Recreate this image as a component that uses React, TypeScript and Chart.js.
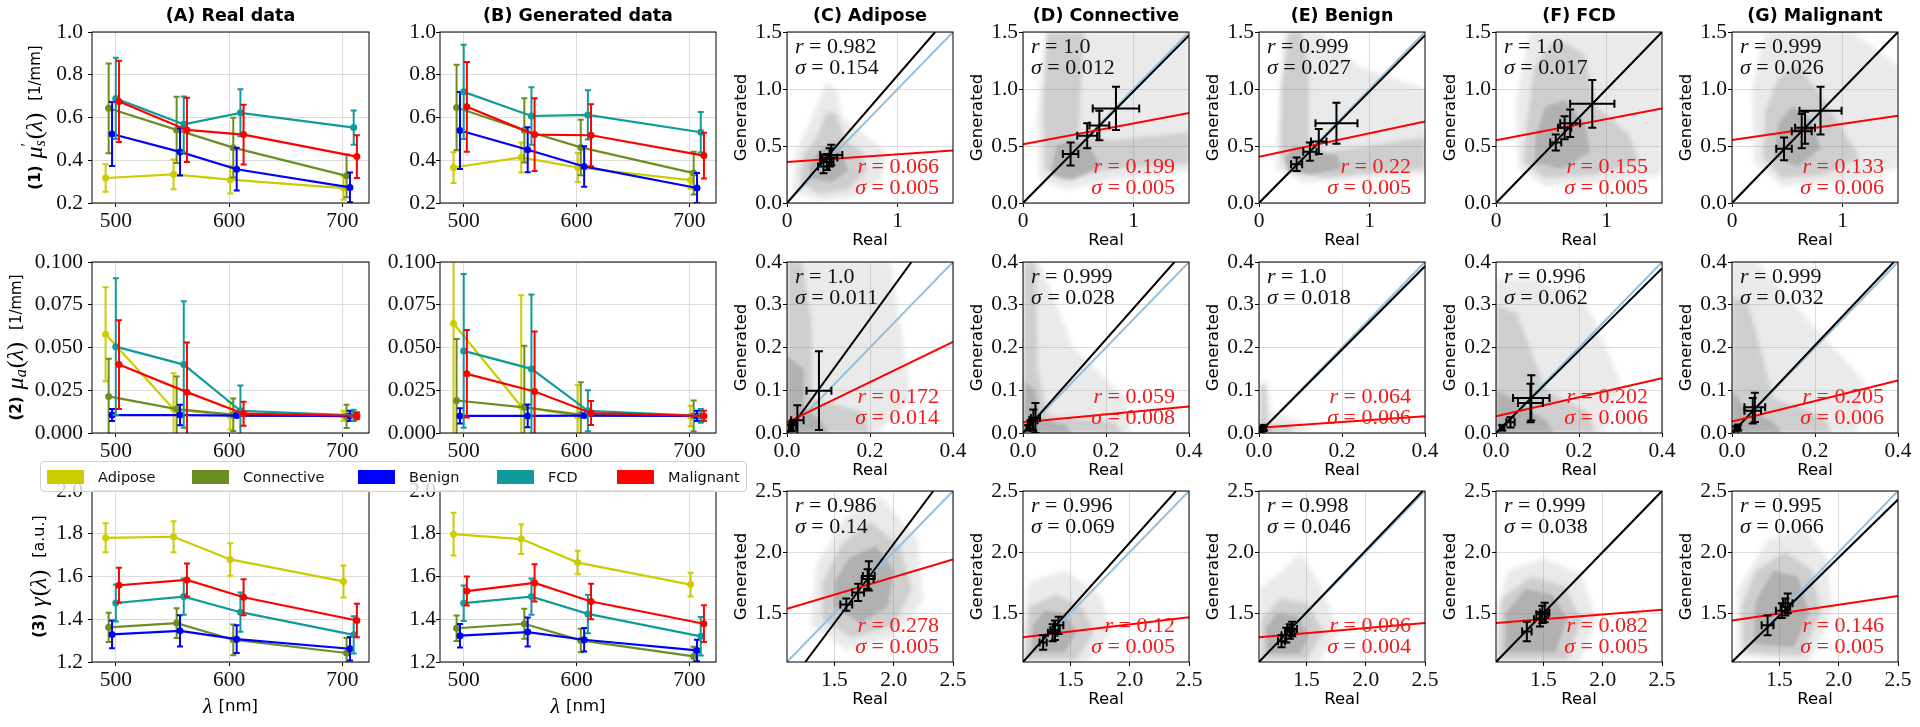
import React, { useEffect, useRef } from 'react';
import { Chart, registerables } from 'chart.js';

// ------------------------------------------------------------------ data
const TISSUES = ['Adipose', 'Connective', 'Benign', 'FCD', 'Malignant'];
const WAVELENGTHS = [490, 550, 600, 700];
const TISSUE_OFFSETS = [1, 3.7, 6.7, 10, 12.8];
const WL_TICKS = [500, 600, 700];
const MUS_TICKS = [0.2, 0.4, 0.6, 0.8, 1.0];
const MUA_TICKS = [0, 0.025, 0.05, 0.075, 0.1];
const GAMMA_TICKS = [1.2, 1.4, 1.6, 1.8, 2.0];

const REAL_MUS = [[0.317, 0.334, 0.309, 0.27], [0.643, 0.542, 0.459, 0.327], [0.523, 0.439, 0.358, 0.273], [0.689, 0.568, 0.622, 0.553], [0.675, 0.542, 0.52, 0.417]];
const REAL_MUS_ERR = [[0.064, 0.07, 0.065, 0.055], [0.21, 0.155, 0.14, 0.1], [0.15, 0.11, 0.1, 0.07], [0.19, 0.13, 0.11, 0.08], [0.19, 0.15, 0.14, 0.1]];
const GEN_MUS = [[0.366, 0.413, 0.366, 0.307], [0.647, 0.54, 0.46, 0.34], [0.539, 0.449, 0.371, 0.27], [0.72, 0.607, 0.612, 0.531], [0.65, 0.52, 0.517, 0.422]];
const GEN_MUS_ERR = [[0.072, 0.07, 0.068, 0.04], [0.2, 0.15, 0.13, 0.1], [0.18, 0.105, 0.095, 0.07], [0.22, 0.135, 0.115, 0.095], [0.21, 0.17, 0.145, 0.107]];

const REAL_MUA = [[0.0577, 0.014, 0.01, 0.01], [0.0214, 0.014, 0.0107, 0.0097], [0.0105, 0.0105, 0.0102, 0.01], [0.0505, 0.04, 0.013, 0.0103], [0.04, 0.0239, 0.0113, 0.0101]];
const REAL_MUA_ERR = [[0.0275, 0.021, 0.008, 0.003], [0.022, 0.019, 0.0095, 0.0068], [0.0035, 0.006, 0.001, 0.003], [0.04, 0.037, 0.0148, 0.0033], [0.026, 0.029, 0.007, 0.002]];
const GEN_MUA = [[0.064, 0.0155, 0.01, 0.01], [0.019, 0.015, 0.0107, 0.01], [0.01, 0.01, 0.0102, 0.01], [0.048, 0.0375, 0.013, 0.01], [0.0346, 0.0243, 0.0117, 0.01]];
const GEN_MUA_ERR = [[0.07, 0.065, 0.018, 0.006], [0.036, 0.036, 0.019, 0.009], [0.0045, 0.0067, 0.001, 0.003], [0.045, 0.0435, 0.012, 0.004], [0.0256, 0.035, 0.007, 0.003]];

const REAL_GAMMA = [[1.781, 1.786, 1.68, 1.577], [1.362, 1.382, 1.304, 1.242], [1.329, 1.346, 1.307, 1.262], [1.476, 1.506, 1.433, 1.327], [1.559, 1.584, 1.503, 1.394]];
const REAL_GAMMA_ERR = [[0.068, 0.072, 0.076, 0.075], [0.068, 0.07, 0.072, 0.07], [0.065, 0.073, 0.065, 0.055], [0.087, 0.085, 0.092, 0.087], [0.082, 0.077, 0.084, 0.078]];
const GEN_GAMMA = [[1.798, 1.775, 1.665, 1.562], [1.358, 1.379, 1.301, 1.226], [1.323, 1.34, 1.304, 1.254], [1.475, 1.506, 1.425, 1.32], [1.532, 1.57, 1.483, 1.379]];
const GEN_GAMMA_ERR = [[0.1, 0.07, 0.055, 0.055], [0.06, 0.07, 0.055, 0.045], [0.055, 0.068, 0.055, 0.05], [0.083, 0.085, 0.09, 0.09], [0.068, 0.087, 0.083, 0.086]];

// scatter panels (rows: mu_s', mu_a, gamma ; columns: tissues)
const SC_RANGE = [[0, 1.5], [0, 0.4], [1.1, 2.5]];
const SC_XTICKS = [[0, 1], [0, 0.2, 0.4], [1.5, 2.0, 2.5]];
const SC_YTICKS = [[0, 0.5, 1.0, 1.5], [0, 0.1, 0.2, 0.3, 0.4], [1.5, 2.0, 2.5]];
const SC_XDEC = [0, 1, 1];

const FIT_R = [['0.982', '1.0', '0.999', '1.0', '0.999'], ['1.0', '0.999', '1.0', '0.996', '0.999'], ['0.986', '0.996', '0.998', '0.999', '0.995']];
const FIT_SIGMA = [['0.154', '0.012', '0.027', '0.017', '0.026'], ['0.011', '0.028', '0.018', '0.062', '0.032'], ['0.14', '0.069', '0.046', '0.038', '0.066']];
const BASE_R = [['0.066', '0.199', '0.22', '0.155', '0.133'], ['0.172', '0.059', '0.064', '0.202', '0.205'], ['0.278', '0.12', '0.096', '0.082', '0.146']];
const BASE_SIGMA = [['0.005', '0.005', '0.005', '0.005', '0.006'], ['0.014', '0.008', '0.006', '0.006', '0.006'], ['0.005', '0.005', '0.004', '0.005', '0.005']];

const BLACK_FIT = [
  [[[0, 0], [1.339, 1.5]], [[0, 0], [1.5, 1.47]], [[0, 0], [1.5, 1.47]], [[0, 0], [1.5, 1.5]], [[0, 0], [1.5, 1.5]]],
  [[[0, 0], [0.3, 0.4]], [[0, 0], [0.365, 0.4]], [[0, 0], [0.4, 0.39]], [[0, 0], [0.4, 0.385]], [[0, 0], [0.39, 0.4]]],
  [[[1.254, 1.1], [2.334, 2.5]], [[1.1, 1.1], [2.39, 2.5]], [[1.1, 1.1], [2.48, 2.5]], [[1.1, 1.1], [2.5, 2.5]], [[1.1, 1.1], [2.5, 2.43]]],
];
// red line: y at x = range min and x = range max
const RED_FIT = [
  [[0.36, 0.46], [0.516, 0.79], [0.405, 0.715], [0.55, 0.83], [0.553, 0.766]],
  [[0.025, 0.213], [0.025, 0.062], [0.012, 0.039], [0.039, 0.128], [0.027, 0.123]],
  [[1.536, 1.94], [1.303, 1.466], [1.303, 1.42], [1.42, 1.528], [1.44, 1.64]],
];
// crosses: [x, y, xerr, yerr]
const CROSSES = [
  [
    [[0.33, 0.32, 0.05, 0.06], [0.36, 0.36, 0.06, 0.07], [0.385, 0.4, 0.07, 0.08], [0.4, 0.42, 0.1, 0.09]],
    [[0.43, 0.43, 0.07, 0.1], [0.58, 0.59, 0.09, 0.11], [0.69, 0.68, 0.09, 0.13], [0.84, 0.83, 0.21, 0.19]],
    [[0.34, 0.34, 0.05, 0.06], [0.46, 0.45, 0.06, 0.08], [0.54, 0.54, 0.07, 0.11], [0.7, 0.7, 0.19, 0.18]],
    [[0.54, 0.53, 0.05, 0.07], [0.62, 0.66, 0.06, 0.1], [0.67, 0.7, 0.09, 0.12], [0.87, 0.87, 0.2, 0.21]],
    [[0.47, 0.475, 0.07, 0.1], [0.63, 0.63, 0.09, 0.15], [0.66, 0.66, 0.09, 0.14], [0.8, 0.81, 0.19, 0.21]],
  ],
  [
    [[0.01, 0.012, 0.005, 0.008], [0.014, 0.018, 0.008, 0.012], [0.025, 0.03, 0.015, 0.035], [0.077, 0.099, 0.03, 0.092]],
    [[0.012, 0.012, 0.004, 0.006], [0.018, 0.02, 0.006, 0.01], [0.025, 0.03, 0.01, 0.025], [0.03, 0.035, 0.011, 0.035]],
    [[0.008, 0.008, 0.002, 0.003], [0.01, 0.01, 0.003, 0.004], [0.011, 0.011, 0.003, 0.005], [0.012, 0.012, 0.004, 0.006]],
    [[0.015, 0.012, 0.005, 0.006], [0.035, 0.025, 0.01, 0.012], [0.083, 0.07, 0.03, 0.045], [0.085, 0.082, 0.044, 0.053]],
    [[0.01, 0.01, 0.004, 0.005], [0.015, 0.013, 0.005, 0.007], [0.05, 0.052, 0.02, 0.03], [0.055, 0.06, 0.025, 0.034]],
  ],
  [
    [[1.6, 1.57, 0.05, 0.05], [1.7, 1.67, 0.05, 0.07], [1.78, 1.78, 0.05, 0.08], [1.79, 1.805, 0.05, 0.12]],
    [[1.27, 1.26, 0.03, 0.06], [1.35, 1.34, 0.04, 0.07], [1.37, 1.36, 0.04, 0.08], [1.4, 1.4, 0.04, 0.07]],
    [[1.29, 1.27, 0.03, 0.05], [1.33, 1.32, 0.04, 0.06], [1.36, 1.35, 0.04, 0.06], [1.38, 1.37, 0.04, 0.06]],
    [[1.36, 1.35, 0.04, 0.08], [1.47, 1.45, 0.05, 0.06], [1.49, 1.49, 0.05, 0.07], [1.51, 1.505, 0.04, 0.08]],
    [[1.4, 1.4, 0.05, 0.08], [1.52, 1.52, 0.05, 0.06], [1.55, 1.55, 0.04, 0.07], [1.57, 1.58, 0.04, 0.08]],
  ],
];
// outlines of the grey sample clouds: [faint, medium, dense]
const CLOUDS = [
  [
    [[[0.05, 0.1], [0.3, 0.02], [0.6, 0.05], [0.85, 0.2], [0.9, 0.45], [0.7, 0.6], [0.5, 0.75], [0.45, 1.0], [0.35, 1.05], [0.25, 0.8], [0.08, 0.45]],
     [[0.12, 0.18], [0.3, 0.08], [0.55, 0.12], [0.72, 0.28], [0.68, 0.45], [0.52, 0.55], [0.45, 0.78], [0.36, 0.8], [0.28, 0.6], [0.14, 0.4]],
     [[0.22, 0.22], [0.4, 0.18], [0.55, 0.28], [0.5, 0.45], [0.4, 0.52], [0.28, 0.45], [0.2, 0.32]]],
    [[[0.15, 0.2], [0.4, 0.12], [0.9, 0.22], [1.5, 0.28], [1.5, 1.5], [0.2, 1.5], [0.12, 0.7]],
     [[0.2, 0.3], [0.35, 0.2], [0.8, 0.3], [1.5, 0.35], [1.5, 0.62], [0.8, 0.55], [0.5, 0.6], [0.55, 1.5], [0.22, 1.5], [0.18, 0.8]],
     [[0.25, 0.25], [0.45, 0.2], [0.7, 0.32], [0.6, 0.5], [0.42, 0.55], [0.3, 0.5]]],
    [[[0.15, 0.3], [0.4, 0.18], [1.0, 0.22], [1.5, 0.25], [1.5, 1.0], [0.9, 1.2], [0.55, 1.5], [0.22, 1.5]],
     [[0.2, 0.4], [0.28, 0.28], [0.6, 0.22], [1.0, 0.26], [1.5, 0.3], [1.5, 0.58], [1.0, 0.5], [0.6, 0.45], [0.45, 0.55], [0.45, 1.2], [0.38, 1.5], [0.27, 1.5], [0.2, 1.0]],
     [[0.25, 0.28], [0.45, 0.25], [0.75, 0.3], [0.7, 0.42], [0.45, 0.45], [0.32, 0.5], [0.24, 0.4]]],
    [[[0.2, 0.3], [0.45, 0.15], [1.0, 0.18], [1.5, 0.25], [1.5, 1.5], [0.3, 1.5], [0.18, 0.9]],
     [[0.25, 0.35], [0.45, 0.22], [0.9, 0.25], [1.3, 0.35], [1.2, 0.6], [0.9, 0.85], [0.8, 1.3], [0.55, 1.45], [0.35, 1.2], [0.28, 0.7]],
     [[0.35, 0.35], [0.6, 0.3], [0.85, 0.45], [0.8, 0.7], [0.62, 0.9], [0.45, 0.85], [0.36, 0.6]]],
    [[[0.2, 0.35], [0.45, 0.15], [1.0, 0.18], [1.5, 0.3], [1.5, 1.2], [1.1, 1.5], [0.3, 1.5], [0.18, 1.0]],
     [[0.28, 0.4], [0.45, 0.22], [0.85, 0.25], [1.15, 0.4], [1.0, 0.65], [0.8, 0.95], [0.6, 1.2], [0.42, 1.1], [0.3, 0.8]],
     [[0.38, 0.4], [0.6, 0.32], [0.8, 0.48], [0.72, 0.72], [0.55, 0.85], [0.42, 0.7]]],
  ],
  [
    [[[0, 0], [0.22, 0], [0.3, 0.08], [0.25, 0.4], [0, 0.4]],
     [[0, 0], [0.2, 0], [0.18, 0.05], [0.06, 0.08], [0.06, 0.25], [0.035, 0.4], [0, 0.4]],
     [[0, 0], [0.1, 0], [0.08, 0.03], [0.04, 0.06], [0.04, 0.15], [0, 0.18]]],
    [[[0, 0], [0.26, 0], [0.25, 0.08], [0.12, 0.2], [0.04, 0.4], [0, 0.4]],
     [[0, 0], [0.24, 0], [0.22, 0.025], [0.06, 0.04], [0.035, 0.15], [0.03, 0.4], [0.005, 0.4]],
     [[0, 0], [0.12, 0], [0.1, 0.02], [0.04, 0.03], [0.03, 0.1], [0.005, 0.12]]],
    [[[0, 0], [0.12, 0], [0.1, 0.03], [0.03, 0.05], [0.02, 0.12], [0, 0.12]],
     [[0.002, 0], [0.09, 0], [0.07, 0.015], [0.02, 0.02], [0.015, 0.11], [0.005, 0.11]],
     [[0.003, 0.003], [0.03, 0.003], [0.03, 0.015], [0.003, 0.02]]],
    [[[0, 0], [0.26, 0], [0.3, 0.12], [0.22, 0.3], [0.1, 0.36], [0, 0.36]],
     [[0, 0], [0.24, 0], [0.22, 0.05], [0.12, 0.1], [0.05, 0.28], [0, 0.3]],
     [[0, 0], [0.14, 0], [0.12, 0.03], [0.04, 0.08], [0, 0.1]]],
    [[[0, 0], [0.3, 0], [0.32, 0.12], [0.15, 0.3], [0.06, 0.4], [0, 0.4]],
     [[0, 0], [0.24, 0], [0.22, 0.04], [0.1, 0.08], [0.04, 0.3], [0, 0.32]],
     [[0, 0], [0.12, 0], [0.1, 0.025], [0.03, 0.06], [0, 0.1]]],
  ],
  [
    [[[1.3, 1.4], [1.6, 1.2], [2.0, 1.3], [2.25, 1.6], [2.2, 2.1], [1.9, 2.45], [1.6, 2.3], [1.35, 1.9]],
     [[1.4, 1.45], [1.65, 1.3], [2.0, 1.4], [2.15, 1.7], [2.05, 2.05], [1.8, 2.25], [1.55, 2.05], [1.4, 1.75]],
     [[1.5, 1.55], [1.72, 1.42], [1.95, 1.55], [2.0, 1.85], [1.85, 2.05], [1.62, 1.95], [1.5, 1.75]]],
    [[[1.1, 1.1], [1.65, 1.1], [1.85, 1.35], [1.75, 1.65], [1.45, 1.85], [1.15, 1.75], [1.1, 1.4]],
     [[1.12, 1.12], [1.55, 1.12], [1.7, 1.35], [1.6, 1.55], [1.38, 1.65], [1.15, 1.55]],
     [[1.18, 1.18], [1.45, 1.18], [1.55, 1.35], [1.45, 1.5], [1.28, 1.52], [1.18, 1.4]]],
    [[[1.1, 1.1], [1.6, 1.1], [1.78, 1.35], [1.62, 1.72], [1.45, 2.0], [1.3, 1.85], [1.1, 1.7]],
     [[1.12, 1.12], [1.5, 1.12], [1.65, 1.35], [1.5, 1.58], [1.28, 1.62], [1.12, 1.45]],
     [[1.17, 1.17], [1.45, 1.17], [1.52, 1.32], [1.42, 1.48], [1.25, 1.5], [1.16, 1.38]]],
    [[[1.1, 1.1], [1.8, 1.1], [1.95, 1.45], [1.82, 1.82], [1.5, 1.95], [1.2, 1.85], [1.1, 1.5]],
     [[1.12, 1.12], [1.7, 1.12], [1.82, 1.45], [1.68, 1.72], [1.4, 1.8], [1.15, 1.62]],
     [[1.18, 1.18], [1.6, 1.18], [1.7, 1.45], [1.58, 1.65], [1.35, 1.7], [1.18, 1.5]]],
    [[[1.15, 1.15], [1.75, 1.1], [1.95, 1.5], [1.9, 1.95], [1.7, 2.2], [1.4, 2.1], [1.15, 1.7]],
     [[1.2, 1.18], [1.68, 1.15], [1.85, 1.5], [1.78, 1.85], [1.55, 2.0], [1.3, 1.85], [1.18, 1.55]],
     [[1.28, 1.25], [1.62, 1.22], [1.75, 1.5], [1.65, 1.8], [1.45, 1.85], [1.3, 1.6]]],
  ],
];

// ------------------------------------------------------------------ styles / layout
const TISSUE_COLORS = ['#cccc00', '#6b8e23', '#0000ff', '#0f9b9b', '#ff0000'];
const ID_COLOR = '#97c0dc';
const GRID_COLOR = '#dcdcdc';
const CLOUD_ALPHA = [0.17, 0.27, 0.36];
const CLOUD_BLUR = [2.5, 2, 1.5];
const SANS = '"DejaVu Sans", sans-serif';
const SERIF = '"Liberation Serif", serif';
const TICK_SIZE = 21.5;
const MATH_SIZE = 22;
const fS = (px: number, bold = false) => `${bold ? 'bold ' : ''}${px}px ${SANS}`;
const fM = (px: number, italic = false) => `${italic ? 'italic ' : ''}${px}px ${SERIF}`;

const COL_LEFT = [92, 440, 787, 1023, 1259, 1496, 1732];
const COL_WIDTH = [277, 276, 166, 166, 166, 166, 166];
const ROW_TOP = [32, 262, 491];
const ROW_HEIGHT = 171;
const MT = 35;
const MB = 60;

const COL_TITLES = ['(A) Real data', '(B) Generated data', '(C) Adipose', '(D) Connective', '(E) Benign', '(F) FCD', '(G) Malignant'];

type Seg = { t: string; f: string; c?: string; dy?: number; ov?: boolean; gap?: number };

const ROW_LABELS: Seg[][] = [
  [{ t: '(1)', f: fS(15, true) }, { t: 'μ', f: fM(24, true), gap: 7 }, { t: '′', f: fM(16), dy: -8, ov: true }, { t: 's', f: fM(16, true), dy: 5 }, { t: '(', f: fM(24), gap: 1 }, { t: 'λ', f: fM(24, true) }, { t: ')', f: fM(24) }, { t: '[1/mm]', f: fS(15), gap: 12 }],
  [{ t: '(2)', f: fS(15, true) }, { t: 'μ', f: fM(24, true), gap: 7 }, { t: 'a', f: fM(16, true), dy: 5 }, { t: '(', f: fM(24), gap: 1 }, { t: 'λ', f: fM(24, true) }, { t: ')', f: fM(24) }, { t: '[1/mm]', f: fS(15), gap: 12 }],
  [{ t: '(3)', f: fS(15, true) }, { t: 'γ', f: fM(24, true), gap: 7 }, { t: '(', f: fM(24), gap: 1 }, { t: 'λ', f: fM(24, true) }, { t: ')', f: fM(24) }, { t: '[a.u.]', f: fS(16), gap: 12 }],
];
const ROW_LABEL_DX = [-56, -75, -52];

// ------------------------------------------------------------------ plugins
const blurPlugin = {
  id: 'cloudBlur',
  beforeDatasetDraw(chart: any, args: any) {
    const ds = chart.data.datasets[args.index];
    if (ds && ds.blur) chart.ctx.filter = `blur(${ds.blur}px)`;
  },
  afterDatasetDraw(chart: any, args: any) {
    const ds = chart.data.datasets[args.index];
    if (ds && ds.blur) chart.ctx.filter = 'none';
  },
};

const errorBarPlugin = {
  id: 'errorBars',
  beforeDatasetDraw(chart: any, args: any) {
    const ds = chart.data.datasets[args.index];
    if (!ds || (!ds.errY && !ds.errX)) return;
    const { ctx, chartArea: a } = chart;
    const xs = chart.scales.x;
    const ys = chart.scales.y;
    ctx.save();
    ctx.beginPath();
    ctx.rect(a.left, a.top, a.right - a.left, a.bottom - a.top);
    ctx.clip();
    ctx.strokeStyle = ds.errColor || ds.borderColor;
    ctx.lineWidth = ds.errWidth || 1.5;
    const cap = ds.capSize ?? 3;
    ds.data.forEach((p: any, i: number) => {
      const px = xs.getPixelForValue(p.x);
      const py = ys.getPixelForValue(p.y);
      ctx.beginPath();
      if (ds.errY) {
        const e = ds.errY[i];
        const y1 = ys.getPixelForValue(p.y - e);
        const y2 = ys.getPixelForValue(p.y + e);
        ctx.moveTo(px, y1); ctx.lineTo(px, y2);
        ctx.moveTo(px - cap, y1); ctx.lineTo(px + cap, y1);
        ctx.moveTo(px - cap, y2); ctx.lineTo(px + cap, y2);
      }
      if (ds.errX) {
        const e = ds.errX[i];
        const x1 = xs.getPixelForValue(p.x - e);
        const x2 = xs.getPixelForValue(p.x + e);
        ctx.moveTo(x1, py); ctx.lineTo(x2, py);
        ctx.moveTo(x1, py - cap); ctx.lineTo(x1, py + cap);
        ctx.moveTo(x2, py - cap); ctx.lineTo(x2, py + cap);
      }
      ctx.stroke();
    });
    ctx.restore();
  },
};

Chart.register(blurPlugin as any, errorBarPlugin as any);
Chart.register(...registerables);

function drawRich(ctx: CanvasRenderingContext2D, segs: Seg[], x: number, y: number, align: string, rot: number, color: string) {
  ctx.save();
  ctx.translate(x, y);
  if (rot) ctx.rotate(rot);
  ctx.textBaseline = 'middle';
  ctx.textAlign = 'left';
  const widths = segs.map((s) => { ctx.font = s.f; return ctx.measureText(s.t).width; });
  const xs: number[] = [];
  let cx = 0;
  let ovW = 0;
  segs.forEach((s, i) => {
    cx += s.gap || 0;
    xs.push(cx);
    if (s.ov) ovW = widths[i];
    else { cx += Math.max(widths[i], ovW); ovW = 0; }
  });
  const start = align === 'left' ? 0 : align === 'right' ? -cx : -cx / 2;
  segs.forEach((s, i) => {
    ctx.font = s.f;
    ctx.fillStyle = s.c || color;
    ctx.fillText(s.t, start + xs[i], s.dy || 0);
  });
  ctx.restore();
}

type TextItem = { fx: number; fy: number; dx: number; dy: number; align: string; rot?: number; color?: string; segs: Seg[] };

function overlayPlugin(items: TextItem[]) {
  return {
    id: 'overlay',
    afterDraw(chart: any) {
      const { ctx, chartArea: a } = chart;
      ctx.save();
      ctx.strokeStyle = '#000';
      ctx.lineWidth = 1;
      ctx.strokeRect(a.left, a.top, a.right - a.left, a.bottom - a.top);
      ctx.restore();
      items.forEach((it) => {
        const x = a.left + it.fx * (a.right - a.left) + it.dx;
        const y = a.top + it.fy * (a.bottom - a.top) + it.dy;
        drawRich(ctx, it.segs, x, y, it.align, it.rot || 0, it.color || '#000');
      });
    },
  };
}

function axis(kind: 'x' | 'y', o: any) {
  return {
    type: 'linear',
    position: kind === 'x' ? 'bottom' : 'left',
    min: o.min,
    max: o.max,
    afterBuildTicks: (s: any) => { s.ticks = o.ticks.map((v: number) => ({ value: v })); },
    afterFit: (s: any) => { if (kind === 'x') s.height = o.size; else s.width = o.size; },
    ticks: {
      autoSkip: false, maxRotation: 0, minRotation: 0, padding: o.pad, color: '#111',
      font: { family: SERIF, size: TICK_SIZE, lineHeight: 1.15 },
      callback: (v: any) => Number(v).toFixed(o.dec),
    },
    grid: { color: GRID_COLOR, lineWidth: 1, drawTicks: true, tickLength: 4, tickColor: '#000', tickWidth: 1 },
    border: { display: false },
    title: o.title
      ? { display: true, text: o.title, color: '#000', font: { family: SANS, size: 16.5, lineHeight: 1.2 }, padding: o.titlePad }
      : { display: false },
  };
}

function baseOptions(ML: number, MR: number, scales: any) {
  return {
    responsive: false, maintainAspectRatio: false, animation: false, devicePixelRatio: 1, events: [],
    layout: { padding: { left: 0, top: MT, right: MR, bottom: 0 } },
    plugins: { legend: { display: false }, tooltip: { enabled: false }, title: { display: false } },
    scales,
  };
}

function titleItem(col: number): TextItem {
  return { fx: 0.5, fy: 0, dx: 0, dy: -16, align: 'center', segs: [{ t: COL_TITLES[col], f: fS(17.5, true) }] };
}

// ------------------------------------------------------------------ panel configs
function lineConfig(row: number, col: number, ML: number, MR: number) {
  const vals = [[REAL_MUS, GEN_MUS], [REAL_MUA, GEN_MUA], [REAL_GAMMA, GEN_GAMMA]][row][col];
  const errs = [[REAL_MUS_ERR, GEN_MUS_ERR], [REAL_MUA_ERR, GEN_MUA_ERR], [REAL_GAMMA_ERR, GEN_GAMMA_ERR]][row][col];
  const yTicks = [MUS_TICKS, MUA_TICKS, GAMMA_TICKS][row];
  const yDec = [1, 3, 1][row];
  const datasets = TISSUES.map((name, i) => ({
    type: 'line',
    label: name,
    data: WAVELENGTHS.map((w, j) => ({ x: w + TISSUE_OFFSETS[i], y: vals[i][j] })),
    errY: errs[i],
    errWidth: 2,
    capSize: 3,
    borderColor: TISSUE_COLORS[i],
    backgroundColor: TISSUE_COLORS[i],
    borderWidth: 2.2,
    pointRadius: 3.5,
    pointBorderWidth: 0,
    fill: false,
    order: 10 - i,
  }));
  const items: TextItem[] = [];
  if (row === 0) items.push(titleItem(col));
  if (col === 0) items.push({ fx: 0, fy: 0.5, dx: ROW_LABEL_DX[row], dy: 0, align: 'center', rot: -Math.PI / 2, segs: ROW_LABELS[row] });
  if (row === 2) items.push({ fx: 0.5, fy: 1, dx: 0, dy: 45, align: 'center', segs: [{ t: 'λ', f: fM(22, true) }, { t: '[nm]', f: fS(16.5), gap: 6 }] });
  const scales = {
    x: axis('x', { min: 479, max: 723.5, ticks: WL_TICKS, dec: 0, size: MB, pad: 2 }),
    y: axis('y', { min: yTicks[0], max: yTicks[yTicks.length - 1], ticks: yTicks, dec: yDec, size: ML, pad: col === 0 ? 5 : 0 }),
  };
  return {
    type: 'line',
    data: { datasets },
    options: baseOptions(ML, MR, scales),
    plugins: [overlayPlugin(items)],
  };
}

function scatterConfig(row: number, t: number, ML: number, MR: number) {
  const [mn, mx] = SC_RANGE[row];
  const clouds = CLOUDS[row][t].map((poly, k) => ({
    type: 'line',
    data: poly.map(([x, y]) => ({ x, y })),
    fill: 'shape',
    backgroundColor: `rgba(128,128,128,${CLOUD_ALPHA[k]})`,
    borderColor: 'rgba(0,0,0,0)',
    borderWidth: 0,
    pointRadius: 0,
    blur: CLOUD_BLUR[k],
    order: 30 - k,
  }));
  const bl = BLACK_FIT[row][t];
  const rf = RED_FIT[row][t];
  const cr = CROSSES[row][t];
  const datasets = [
    ...clouds,
    { type: 'line', data: [{ x: mn, y: mn }, { x: mx, y: mx }], borderColor: ID_COLOR, borderWidth: 2, pointRadius: 0, fill: false, order: 4 },
    { type: 'line', data: bl.map(([x, y]) => ({ x, y })), borderColor: '#000', borderWidth: 2, pointRadius: 0, fill: false, order: 3 },
    { type: 'line', data: [{ x: mn, y: rf[0] }, { x: mx, y: rf[1] }], borderColor: '#ff0000', borderWidth: 2, pointRadius: 0, fill: false, order: 2 },
    {
      type: 'line', showLine: false, data: cr.map((c) => ({ x: c[0], y: c[1] })),
      errX: cr.map((c) => c[2]), errY: cr.map((c) => c[3]), errColor: '#000', errWidth: 2, capSize: 4,
      borderColor: '#000', pointRadius: 0, fill: false, order: 1,
    },
  ];
  const MI = fM(MATH_SIZE, true);
  const MR_ = fM(MATH_SIZE);
  const items: TextItem[] = [
    { fx: 0, fy: 0, dx: 8, dy: 15, align: 'left', color: '#111', segs: [{ t: 'r', f: MI }, { t: ' = ' + FIT_R[row][t], f: MR_ }] },
    { fx: 0, fy: 0, dx: 8, dy: 36, align: 'left', color: '#111', segs: [{ t: 'σ', f: MI }, { t: ' = ' + FIT_SIGMA[row][t], f: MR_ }] },
    { fx: 1, fy: 1, dx: -14, dy: -36, align: 'right', color: '#f21b1b', segs: [{ t: 'r', f: MI }, { t: ' = ' + BASE_R[row][t], f: MR_ }] },
    { fx: 1, fy: 1, dx: -14, dy: -15, align: 'right', color: '#f21b1b', segs: [{ t: 'σ', f: MI }, { t: ' = ' + BASE_SIGMA[row][t], f: MR_ }] },
  ];
  if (row === 0) items.push(titleItem(t + 2));
  const lh = 16.5 * 1.2;
  const scales = {
    x: axis('x', {
      min: mn, max: mx, ticks: SC_XTICKS[row], dec: SC_XDEC[row], size: MB, pad: 2,
      title: 'Real', titlePad: { top: 0, bottom: MB - 38 - lh / 2 },
    }),
    y: axis('y', {
      min: mn, max: mx, ticks: SC_YTICKS[row], dec: 1, size: ML, pad: 1,
      title: 'Generated', titlePad: { top: ML - 45 - lh / 2, bottom: 0 },
    }),
  };
  return {
    type: 'line',
    data: { datasets },
    options: baseOptions(ML, MR, scales),
    plugins: [overlayPlugin(items)],
  };
}

type Spec = { key: string; x: number; y: number; w: number; h: number; config: () => any };

function buildSpecs(): Spec[] {
  const specs: Spec[] = [];
  for (let row = 0; row < 3; row++) {
    for (let col = 0; col < 7; col++) {
      const ML = col === 0 ? 92 : col === 1 ? 60 : 75;
      const MR = col === 6 ? 22 : 24;
      const L = COL_LEFT[col];
      const T = ROW_TOP[row];
      const W = COL_WIDTH[col];
      specs.push({
        key: `p${row}-${col}`,
        x: L - ML,
        y: T - MT,
        w: ML + W + MR,
        h: MT + ROW_HEIGHT + MB,
        config: col < 2 ? () => lineConfig(row, col, ML, MR) : () => scatterConfig(row, col - 2, ML, MR),
      });
    }
  }
  return specs;
}
const SPECS = buildSpecs();

function ChartPanel({ spec }: { spec: Spec }) {
  const ref = useRef<HTMLCanvasElement>(null);
  useEffect(() => {
    const chart = new Chart(ref.current as HTMLCanvasElement, spec.config());
    return () => chart.destroy();
  }, [spec]);
  return (
    <canvas
      ref={ref}
      width={spec.w}
      height={spec.h}
      style={{ position: 'absolute', left: spec.x, top: spec.y, width: spec.w, height: spec.h }}
    />
  );
}

const LEGEND_BOX = { x: 40, y: 461, w: 707, h: 31 };
const LEGEND_ITEM_X = [6, 151, 317, 456, 576];

function Legend() {
  return (
    <div
      style={{
        position: 'absolute', left: LEGEND_BOX.x, top: LEGEND_BOX.y, width: LEGEND_BOX.w, height: LEGEND_BOX.h,
        boxSizing: 'border-box', border: '1px solid #d0d0d0', borderRadius: 4, background: 'rgba(255,255,255,0.8)',
        fontFamily: SANS, fontSize: 14.5, color: '#111',
      }}
    >
      {TISSUES.map((name, i) => (
        <div key={name} style={{ position: 'absolute', left: LEGEND_ITEM_X[i], top: 0, height: '100%', display: 'flex', alignItems: 'center' }}>
          <span style={{ display: 'inline-block', width: 37, height: 14, background: TISSUE_COLORS[i], marginRight: 14 }} />
          <span>{name}</span>
        </div>
      ))}
    </div>
  );
}

export default function App() {
  return (
    <div style={{ position: 'absolute', left: 0, top: 0, width: 1920, height: 727, overflow: 'hidden', background: '#fff' }}>
      {SPECS.map((s) => <ChartPanel key={s.key} spec={s} />)}
      <Legend />
    </div>
  );
}
